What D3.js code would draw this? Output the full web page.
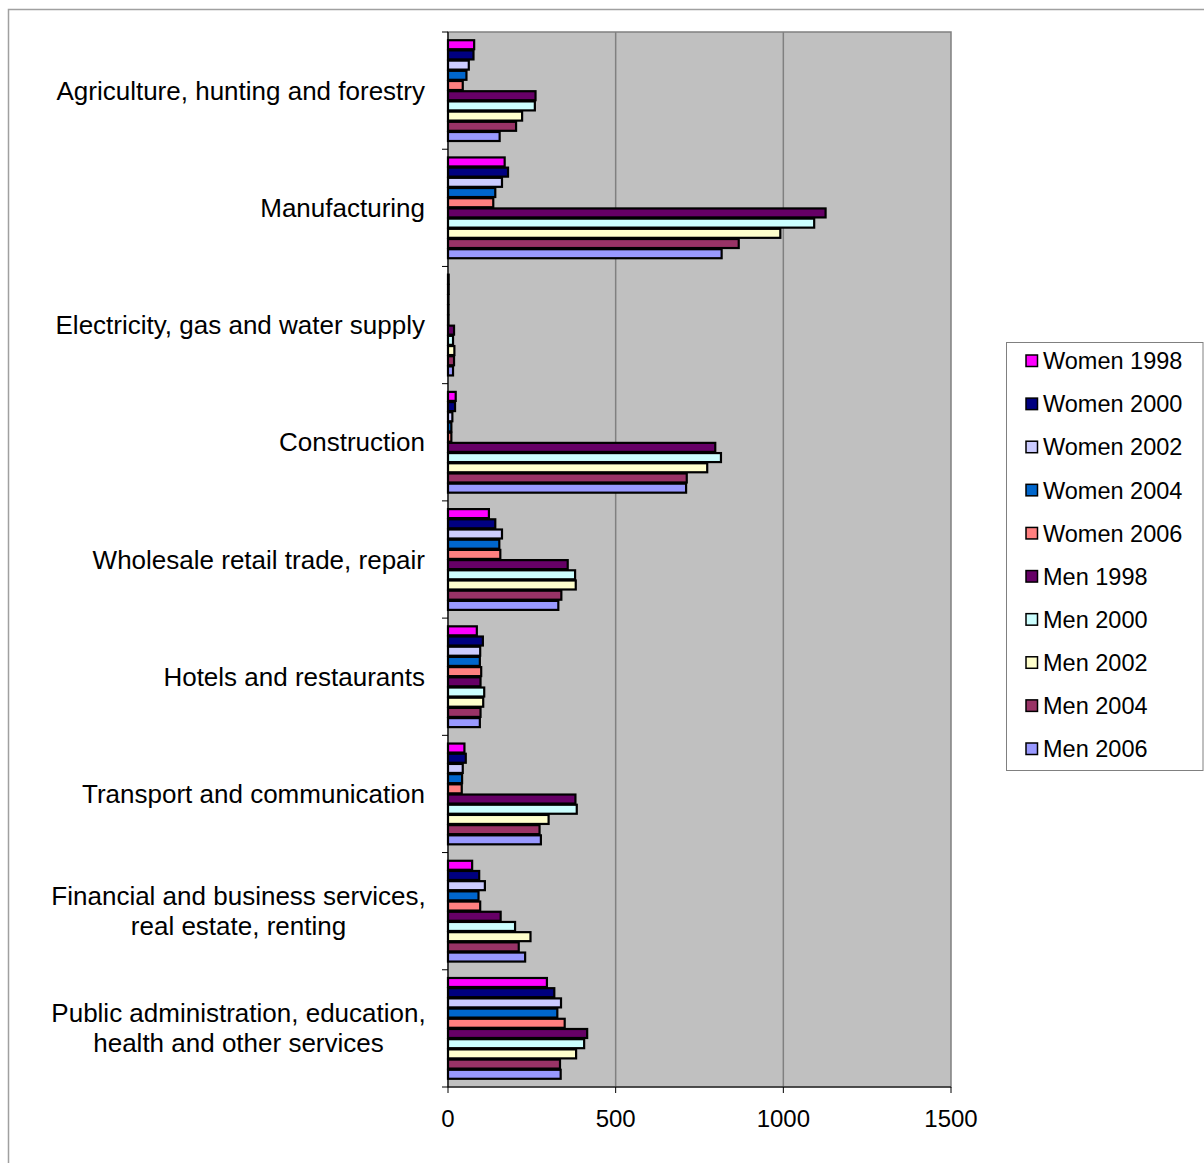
<!DOCTYPE html>
<html>
<head>
<meta charset="utf-8">
<script src="https://cdn.jsdelivr.net/npm/d3@7"></script>
<style>
  html, body { margin: 0; padding: 0; background: #fff; }
  svg { display: block; font-family: "Liberation Sans", Arial, sans-serif; }
</style>
</head>
<body>
<svg id="chart" width="1204" height="1163"></svg>
<script>
const categories = [
  ["Agriculture, hunting and forestry"],
  ["Manufacturing"],
  ["Electricity, gas and water supply"],
  ["Construction"],
  ["Wholesale retail trade, repair"],
  ["Hotels and restaurants"],
  ["Transport and communication"],
  ["Financial and business services,", "real estate, renting"],
  ["Public administration, education,", "health and other services"]
];
const seriesNames = ["Women 1998","Women 2000","Women 2002","Women 2004","Women 2006",
                     "Men 1998","Men 2000","Men 2002","Men 2004","Men 2006"];
const seriesColors = ["#FF00FF","#000080","#CCCCFF","#0066CC","#FF8080",
                      "#660066","#CCFFFF","#FFFFCC","#993366","#9999FF"];
// values per series, in category order
const women1998 = [78, 169, 2, 23, 122, 86, 49, 72, 295];
const women2000 = [76, 179, 2, 21, 141, 104, 53, 93, 317];
const women2002 = [62, 161, 1, 13, 161, 96, 44, 110, 337];
const women2004 = [55, 141, 1, 10, 153, 95, 42, 91, 326];
const women2006 = [44, 135, 1, 10, 156, 99, 41, 96, 348];
const men1998   = [261, 1126, 18, 797, 357, 97, 380, 157, 415];
const men2000   = [259, 1092, 15, 814, 379, 108, 384, 200, 406];
const men2002   = [221, 991, 19, 773, 381, 105, 300, 246, 382];
const men2004   = [203, 867, 18, 712, 338, 97, 273, 211, 334];
const men2006   = [154, 816, 15, 710, 329, 95, 277, 230, 336];
const seriesValues = [women1998, women2000, women2002, women2004, women2006,
                      men1998, men2000, men2002, men2004, men2006];
const xTicks = [0, 500, 1000, 1500];

const svg = d3.select("#chart");
const plot = {left: 448, right: 951, top: 32, bottom: 1087};

// outer chart frame
svg.append("rect").attr("x", 8.5).attr("y", 9.5).attr("width", 1210).attr("height", 1170)
  .attr("fill", "#fff").attr("stroke", "#a0a0a0").attr("stroke-width", 1.5);

const x = d3.scaleLinear().domain([0, 1500]).range([plot.left, plot.right]);
const y = d3.scaleBand().domain(d3.range(categories.length)).range([plot.top, plot.bottom])
  .paddingInner(0.13).paddingOuter(0.065);
const ys = d3.scaleBand().domain(d3.range(seriesNames.length)).range([0, y.bandwidth()]);

// plot background
svg.append("rect").attr("x", plot.left).attr("y", plot.top)
  .attr("width", plot.right - plot.left).attr("height", plot.bottom - plot.top)
  .attr("fill", "#C0C0C0").attr("stroke", "#808080").attr("stroke-width", 1.5);

// gridlines
svg.append("g").selectAll("line").data(xTicks.filter(d => d > 0 && d < 1500)).join("line")
  .attr("x1", d => x(d)).attr("x2", d => x(d))
  .attr("y1", plot.top).attr("y2", plot.bottom)
  .attr("stroke", "#808080").attr("stroke-width", 1.5);

// bars
const gBars = svg.append("g");
seriesValues.forEach((vals, si) => {
  gBars.append("g").selectAll("rect").data(vals).join("rect")
    .attr("x", x(0))
    .attr("y", (d, ci) => y(ci) + ys(si) + 0.6)
    .attr("width", d => Math.max(0.5, x(d) - x(0)))
    .attr("height", ys.bandwidth() - 1.2)
    .attr("fill", seriesColors[si])
    .attr("stroke", "#000").attr("stroke-width", 2.2);
});

// category axis
const step = (plot.bottom - plot.top) / categories.length;
svg.append("line").attr("x1", plot.left).attr("x2", plot.left)
  .attr("y1", plot.top).attr("y2", plot.bottom).attr("stroke", "#000").attr("stroke-width", 1.2);
svg.append("g").selectAll("line").data(d3.range(categories.length + 1)).join("line")
  .attr("x1", plot.left - 6).attr("x2", plot.left)
  .attr("y1", d => plot.top + d * step).attr("y2", d => plot.top + d * step)
  .attr("stroke", "#000").attr("stroke-width", 1);

const catLabels = svg.append("g").attr("font-size", 26).attr("fill", "#000");
categories.forEach((lines, ci) => {
  const cy = y(ci) + y.bandwidth() / 2;
  const lh = 30;
  const single = lines.length === 1;
  const t = catLabels.append("text").attr("text-anchor", single ? "end" : "middle");
  lines.forEach((ln, li) => {
    t.append("tspan")
      .attr("x", single ? 425 : 238.5)
      .attr("y", cy + (li - (lines.length - 1) / 2) * lh)
      .attr("dy", "0.35em")
      .text(ln);
  });
});

// value axis
svg.append("line").attr("x1", plot.left).attr("x2", plot.right)
  .attr("y1", plot.bottom).attr("y2", plot.bottom).attr("stroke", "#000").attr("stroke-width", 1.2);
svg.append("g").selectAll("line").data(xTicks).join("line")
  .attr("x1", d => x(d)).attr("x2", d => x(d))
  .attr("y1", plot.bottom).attr("y2", plot.bottom + 6)
  .attr("stroke", "#000").attr("stroke-width", 1);
svg.append("g").selectAll("text").data(xTicks).join("text")
  .attr("x", d => x(d)).attr("y", 1119).attr("dy", "0.35em")
  .attr("text-anchor", "middle").attr("font-size", 24).attr("fill", "#000")
  .text(d => d);

// legend
const legend = svg.append("g");
legend.append("rect").attr("x", 1006.5).attr("y", 342.5).attr("width", 196.5).attr("height", 428)
  .attr("fill", "#fff").attr("stroke", "#808080").attr("stroke-width", 1);
const ly = d3.scalePoint().domain(d3.range(seriesNames.length)).range([361, 749]);
seriesNames.forEach((name, i) => {
  legend.append("rect").attr("x", 1026).attr("y", ly(i) - 6).attr("width", 11.5).attr("height", 11.5)
    .attr("fill", seriesColors[i]).attr("stroke", "#000").attr("stroke-width", 1.5);
  legend.append("text").attr("x", 1043).attr("y", ly(i)).attr("dy", "0.35em")
    .attr("font-size", 23.5).attr("fill", "#000").text(name);
});
</script>
</body>
</html>
